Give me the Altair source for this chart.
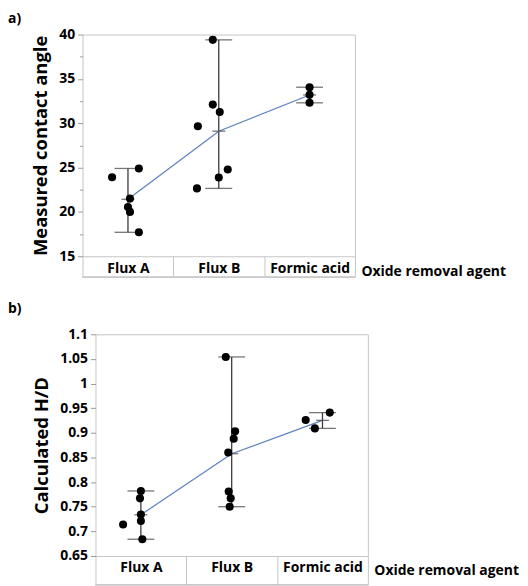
import altair as alt
import pandas as pd

FONT = "Open Sans"
GRAY = "#c6c6c6"
BAR = "#3c3c3c"
BLUE = "#5b7fc0"

AGENTS = ["Flux A", "Flux B", "Formic acid"]
X_TITLE = "Oxide removal agent"

# ---- panel a) measured contact angle ----
angle_flux_a = [23.9, 24.9, 21.5, 20.55, 20.0, 17.7]
angle_flux_b = [39.4, 32.1, 31.27, 29.66, 24.78, 23.88, 22.65]
angle_formic = [34.06, 33.2, 32.3]
# horizontal jitter (fraction of category width)
angle_jit_a = [-0.175, 0.12, 0.022, 0.0, 0.022, 0.12]
angle_jit_b = [-0.066, -0.066, 0.011, -0.23, 0.099, 0.0, -0.24]
angle_jit_f = [0.0, 0.0, 0.0]
angle_ticks = [15, 17.5, 20, 22.5, 25, 27.5, 30, 32.5, 35, 37.5, 40]

# ---- panel b) calculated H/D ----
hd_flux_a = [0.714, 0.782, 0.767, 0.734, 0.721, 0.684]
hd_flux_b = [1.054, 0.903, 0.888, 0.860, 0.781, 0.767, 0.750]
hd_formic = [0.926, 0.909, 0.941]
hd_jit_a = [-0.196, 0.0, -0.01, 0.0, 0.0, 0.016]
hd_jit_b = [-0.065, 0.038, 0.022, -0.038, -0.033, -0.011, -0.022]
hd_jit_f = [-0.185, -0.084, 0.08]
hd_ticks = [0.65, 0.7, 0.75, 0.8, 0.85, 0.9, 0.95, 1.0, 1.05, 1.1]


def frame(groups, jitters):
    rows = []
    for agent, vals, jits in zip(AGENTS, groups, jitters):
        for v, j in zip(vals, jits):
            rows.append({"agent": agent, "value": v, "jitter": j})
    return pd.DataFrame(rows)


W, H = 274, 223


def panel(df, label, ytitle, ydomain, yticks, label_expr, minor_test,
          row_h, label_y, gap, title_pad):
    xaxis = alt.Axis(
        tickBand="extent", tickSize=row_h, tickColor=GRAY, tickWidth=1,
        domain=False, grid=False, labelAngle=0, labelFont=FONT,
        labelFontSize=14, labelFontWeight="bold", labelColor="black",
        labelBaseline="middle", labelPadding=-(row_h - 12),
        title=X_TITLE, titleX=W + 6, titleY=15, titleAlign="left",
        titleBaseline="middle", titleAngle=0, titleFont=FONT,
        titleFontSize=14, titleFontWeight="bold", titleColor="black",
    )
    x = alt.X("agent:N", sort=AGENTS,
              scale=alt.Scale(type="band", paddingInner=0, paddingOuter=0),
              axis=xaxis)
    yaxis_kw = dict(
        values=yticks, domain=False, grid=False, tickColor="#9a9a9a",
        tickWidth=1, labelFont=FONT, labelFontSize=14,
        labelFontWeight="bold", labelColor="black", labelPadding=3,
        titleFont=FONT, titleFontSize=18.5, titleFontWeight="bold",
        titleColor="black", titlePadding=title_pad, format="~g",
    )
    if label_expr:
        yaxis_kw["labelExpr"] = label_expr
    if minor_test:
        yaxis_kw["tickSize"] = {"condition": {"test": minor_test, "value": 3},
                                "value": 5}
    else:
        yaxis_kw["tickSize"] = 5
    yaxis = alt.Axis(**yaxis_kw)
    yscale = alt.Scale(domain=ydomain, nice=False, zero=False)

    def Y(field):
        return alt.Y(field, scale=yscale, axis=yaxis, title=ytitle)

    base = alt.Chart(df)
    agg = base.transform_aggregate(
        lo="min(value)", hi="max(value)", mu="mean(value)", groupby=["agent"]
    )
    bars = agg.mark_rule(color=BAR, strokeWidth=1.3).encode(
        x=x, y=Y("lo:Q"), y2="hi:Q")
    cap_lo = agg.mark_tick(color=BAR, size=27, thickness=1.3).encode(
        x=x, y=Y("lo:Q"))
    cap_hi = agg.mark_tick(color=BAR, size=27, thickness=1.3).encode(
        x=x, y=Y("hi:Q"))
    mean_tick = agg.mark_tick(color=BAR, size=13, thickness=1.3).encode(
        x=x, y=Y("mu:Q"))
    line = agg.mark_line(color=BLUE, strokeWidth=1.2).encode(
        x=x, y=Y("mu:Q"))
    pts = base.mark_circle(size=66, color="black", opacity=1).encode(
        x=x,
        xOffset=alt.XOffset("jitter:Q", scale=alt.Scale(domain=[-0.5, 0.5])),
        y=Y("value:Q"),
    )
    bottom = agg.mark_rule(color=GRAY, strokeWidth=1).encode(
        x=alt.value(0), x2=alt.value(W), y=alt.value(H + row_h))
    plot = alt.layer(bars, line, cap_lo, cap_hi, mean_tick, pts, bottom).properties(
        width=W, height=H,
        view=alt.ViewBackground(stroke=GRAY, strokeWidth=1),
    )
    tag = alt.Chart(pd.DataFrame({"t": [label]})).mark_text(
        align="left", baseline="top", font=FONT, fontSize=14,
        fontWeight="bold", color="black",
    ).encode(text="t:N", x=alt.value(0), y=alt.value(label_y)).properties(
        width=1, height=H,
        view=alt.ViewBackground(stroke="transparent", strokeWidth=0),
    )
    return alt.hconcat(tag, plot, spacing=gap, bounds="flush")


panel_a = panel(
    frame([angle_flux_a, angle_flux_b, angle_formic],
          [angle_jit_a, angle_jit_b, angle_jit_f]),
    "a)", "Measured contact angle", [15, 40], angle_ticks,
    "datum.value % 5 === 0 ? datum.label : ''", "datum.value % 5 !== 0",
    21, -23, 74, 8,
)
panel_b = panel(
    frame([hd_flux_a, hd_flux_b, hd_formic], [hd_jit_a, hd_jit_b, hd_jit_f]),
    "b)", "Calculated H/D", [0.65, 1.1], hd_ticks,
    None, None, 29, -32, 87, 8,
)

chart = alt.vconcat(panel_a, panel_b, spacing=23.5).properties(
    padding={"top": 2, "left": 0, "right": 0, "bottom": 0}
).configure(font=FONT)

chart.save("out.html", embed_options={"renderer": "svg", "actions": False})
